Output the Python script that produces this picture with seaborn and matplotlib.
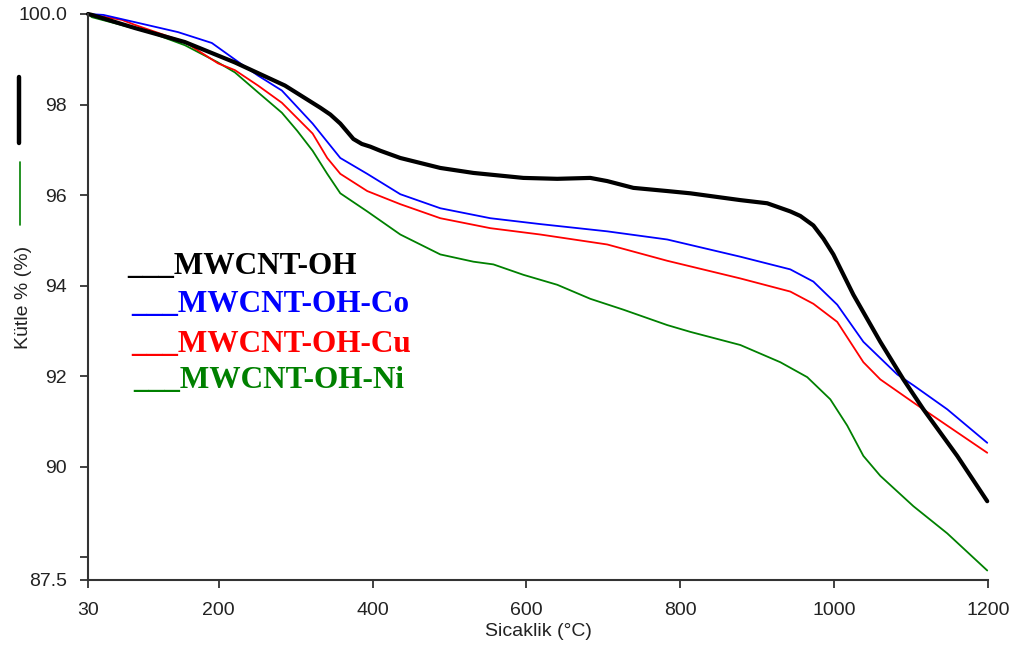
import matplotlib
matplotlib.use("Agg")
import matplotlib.pyplot as plt
from matplotlib.lines import Line2D
import seaborn as sns
import pandas as pd

# ---- data ----
t_oh = [30, 35, 91, 156, 221, 286, 332, 345, 358, 367, 375, 386, 397, 410, 436, 488,
        531, 596, 640, 683, 705, 739, 783, 813, 878, 913, 943, 956, 973, 986, 999,
        1025, 1060, 1090, 1116, 1160, 1199]
m_oh = [100.0, 99.98, 99.69, 99.38, 98.93, 98.42, 97.93, 97.78, 97.58, 97.40, 97.24,
        97.13, 97.07, 96.98, 96.82, 96.60, 96.49, 96.38, 96.36, 96.38, 96.31, 96.16,
        96.09, 96.04, 95.89, 95.82, 95.64, 95.54, 95.33, 95.04, 94.69, 93.80, 92.76,
        91.93, 91.27, 90.24, 89.24]

t_co = [30, 50, 91, 147, 191, 228, 251, 282, 322, 358, 393, 436, 488, 553, 618, 705,
        783, 878, 943, 973, 1004, 1038, 1082, 1103, 1147, 1199]
m_co = [100.0, 99.98, 99.82, 99.60, 99.36, 98.91, 98.64, 98.31, 97.58, 96.82, 96.47,
        96.02, 95.71, 95.49, 95.36, 95.20, 95.02, 94.64, 94.36, 94.09, 93.58, 92.76,
        92.04, 91.80, 91.27, 90.53]

t_cu = [30, 74, 91, 156, 199, 221, 251, 282, 322, 341, 358, 393, 436, 488, 553, 618,
        705, 783, 878, 943, 973, 1004, 1038, 1060, 1103, 1147, 1199]
m_cu = [100.0, 99.87, 99.76, 99.38, 98.91, 98.76, 98.42, 98.04, 97.36, 96.82, 96.47,
        96.09, 95.80, 95.49, 95.27, 95.13, 94.91, 94.55, 94.16, 93.87, 93.60, 93.20,
        92.31, 91.93, 91.42, 90.91, 90.31]

t_ni = [30, 35, 113, 156, 199, 221, 251, 282, 302, 322, 341, 358, 393, 436, 488, 531,
        557, 596, 640, 683, 726, 783, 813, 878, 930, 965, 995, 1017, 1038, 1060, 1103,
        1147, 1199]
m_ni = [100.0, 99.93, 99.58, 99.31, 98.93, 98.71, 98.27, 97.82, 97.42, 96.98, 96.47,
        96.04, 95.64, 95.13, 94.69, 94.53, 94.47, 94.24, 94.02, 93.71, 93.47, 93.13,
        92.98, 92.69, 92.31, 91.98, 91.49, 90.91, 90.24, 89.80, 89.13, 88.53, 87.71]

series_names = ["MWCNT-OH", "MWCNT-OH-Co", "MWCNT-OH-Cu", "MWCNT-OH-Ni"]
x_ticks = [30, 200, 400, 600, 800, 1000, 1200]
y_ticks = [87.5, 88, 90, 92, 94, 96, 98, 100]
y_ticklabels = ["87.5", "", "90", "92", "94", "96", "98", "100.0"]
x_label = "Sicaklik (°C)"
y_label = "Kütle % (%)"

# ---- styling ----
sns.set_style("ticks")
plt.rcParams["font.family"] = ["Liberation Sans", "DejaVu Sans"]

fig = plt.figure(figsize=(10.16, 6.57), dpi=100)
ax = fig.add_axes([88 / 1016, 1 - 580 / 657, 900 / 1016, 566 / 657])

colors = {"MWCNT-OH": "#000000", "MWCNT-OH-Co": "#0000FF",
          "MWCNT-OH-Cu": "#FF0000", "MWCNT-OH-Ni": "#008000"}
widths = {"MWCNT-OH": 3.0, "MWCNT-OH-Co": 1.3, "MWCNT-OH-Cu": 1.3, "MWCNT-OH-Ni": 1.3}
data = {"MWCNT-OH": (t_oh, m_oh), "MWCNT-OH-Co": (t_co, m_co),
        "MWCNT-OH-Cu": (t_cu, m_cu), "MWCNT-OH-Ni": (t_ni, m_ni)}

for name in ["MWCNT-OH-Ni", "MWCNT-OH-Cu", "MWCNT-OH-Co", "MWCNT-OH"]:
    t, m = data[name]
    df = pd.DataFrame({"T": t, "m": m})
    sns.lineplot(data=df, x="T", y="m", ax=ax, color=colors[name],
                 linewidth=widths[name], estimator=None, sort=False,
                 clip_on=False)

ax.set_xlim(30, 1200)
ax.set_ylim(87.5, 100)
ax.set_xticks(x_ticks)
ax.set_xticklabels([str(v) for v in x_ticks])
ax.set_yticks(y_ticks)
ax.set_yticklabels(y_ticklabels)

for s in ["top", "right"]:
    ax.spines[s].set_visible(False)
for s in ["left", "bottom"]:
    ax.spines[s].set_color("#333333")
    ax.spines[s].set_linewidth(1.5)

ax.tick_params(axis="both", which="both", direction="out", length=6, width=1.3,
               color="#333333", labelsize=14, labelcolor="#222222",
               bottom=True, left=True, top=False, right=False)
ax.tick_params(axis="y", pad=9)
ax.tick_params(axis="x", pad=10)

ax.set_xlabel(x_label, fontsize=14, color="#222222")
ax.set_ylabel(y_label, fontsize=14, color="#222222")
ax.xaxis.set_label_coords(0.5, -0.076)
ax.yaxis.set_label_coords(-0.062, 0.5)

# ---- text legend (underscores + names) ----
legend_pos = [(0.0433, 0.5406), (0.0478, 0.4735), (0.0478, 0.4028), (0.050, 0.3392)]
for name, (lx, ly) in zip(series_names, legend_pos):
    ax.text(lx, ly, "___" + name, transform=ax.transAxes, color=colors[name],
            fontsize=22.5, fontweight="bold", va="baseline", ha="left",
            family=["Liberation Serif", "DejaVu Serif"])

# ---- small marks in the left margin ----
fig.add_artist(Line2D([19 / 1016, 19 / 1016], [1 - 77 / 657, 1 - 143 / 657],
                      transform=fig.transFigure, color="#000000", linewidth=3.2))
fig.add_artist(Line2D([20 / 1016, 20 / 1016], [1 - 162 / 657, 1 - 225 / 657],
                      transform=fig.transFigure, color="#008000", linewidth=1.2))

fig.savefig("out.png", dpi=100, facecolor="white")
